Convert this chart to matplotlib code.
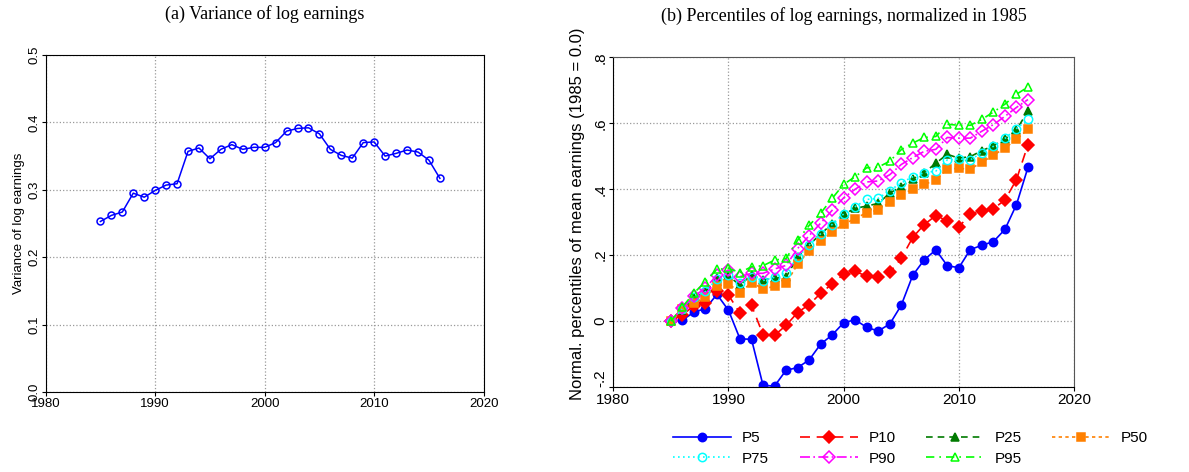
import matplotlib
matplotlib.use("Agg")
import matplotlib.pyplot as plt

years = list(range(1985, 2017))

variance = [0.253, 0.262, 0.267, 0.295, 0.289, 0.299, 0.307, 0.309, 0.357, 0.362,
            0.346, 0.360, 0.367, 0.360, 0.363, 0.363, 0.370, 0.387, 0.391, 0.392,
            0.383, 0.360, 0.351, 0.347, 0.370, 0.371, 0.350, 0.354, 0.359, 0.356,
            0.344, 0.317]

p5 = [0.000, 0.003, 0.027, 0.038, 0.081, 0.033, -0.054, -0.055, -0.195, -0.197,
      -0.149, -0.141, -0.118, -0.070, -0.042, -0.005, 0.004, -0.019, -0.030, -0.009,
      0.048, 0.139, 0.186, 0.216, 0.168, 0.162, 0.217, 0.230, 0.241, 0.278,
      0.353, 0.466]
p10 = [0.000, 0.019, 0.046, 0.056, 0.090, 0.079, 0.024, 0.048, -0.041, -0.043,
       -0.013, 0.026, 0.050, 0.084, 0.113, 0.142, 0.151, 0.136, 0.133, 0.148,
       0.190, 0.254, 0.293, 0.320, 0.304, 0.286, 0.324, 0.333, 0.341, 0.367,
       0.429, 0.535]
p25 = [0.000, 0.035, 0.070, 0.090, 0.130, 0.137, 0.109, 0.140, 0.125, 0.130,
       0.133, 0.194, 0.231, 0.264, 0.295, 0.324, 0.342, 0.349, 0.357, 0.388,
       0.408, 0.431, 0.450, 0.479, 0.506, 0.494, 0.499, 0.517, 0.532, 0.552,
       0.580, 0.637]
p50 = [0.000, 0.037, 0.054, 0.074, 0.106, 0.114, 0.086, 0.117, 0.098, 0.105,
       0.115, 0.172, 0.214, 0.243, 0.270, 0.294, 0.311, 0.329, 0.337, 0.360,
       0.382, 0.401, 0.415, 0.427, 0.462, 0.463, 0.461, 0.482, 0.503, 0.525,
       0.551, 0.582]
p75 = [0.000, 0.038, 0.072, 0.090, 0.128, 0.140, 0.115, 0.135, 0.123, 0.133,
       0.147, 0.193, 0.230, 0.265, 0.293, 0.325, 0.347, 0.369, 0.372, 0.396,
       0.419, 0.438, 0.450, 0.455, 0.489, 0.492, 0.489, 0.511, 0.530, 0.554,
       0.584, 0.612]
p90 = [0.000, 0.040, 0.075, 0.100, 0.140, 0.155, 0.135, 0.145, 0.145, 0.158,
       0.169, 0.220, 0.259, 0.297, 0.336, 0.374, 0.400, 0.422, 0.425, 0.444,
       0.475, 0.496, 0.515, 0.521, 0.557, 0.555, 0.555, 0.576, 0.596, 0.621,
       0.648, 0.672]
p95 = [0.000, 0.043, 0.085, 0.120, 0.157, 0.160, 0.147, 0.165, 0.168, 0.185,
       0.190, 0.245, 0.290, 0.327, 0.372, 0.415, 0.438, 0.465, 0.467, 0.485,
       0.520, 0.540, 0.557, 0.560, 0.597, 0.594, 0.594, 0.612, 0.634, 0.658,
       0.688, 0.710]

series = [
    ("P5", p5, "#0000ff", "-", "o", True),
    ("P10", p10, "#ff0000", (0, (6, 4)), "D", True),
    ("P25", p25, "#007a00", (0, (4, 3)), "^", True),
    ("P50", p50, "#ff8000", (0, (2, 2)), "s", True),
    ("P75", p75, "#00ffff", (0, (1, 2)), "o", False),
    ("P90", p90, "#ff00ff", (0, (6, 2, 1, 2)), "D", False),
    ("P95", p95, "#00ff00", (0, (5, 3, 1, 3)), "^", False),
]

plt.rcParams["font.family"] = ["Liberation Sans", "DejaVu Sans"]
fig = plt.figure(figsize=(11.89, 4.72), dpi=100)

# (a) variance
ax1 = fig.add_axes([0.0384, 0.1695, 0.3684, 0.714])
ax1.plot(years, variance, color="#0000ff", lw=1.1, marker="o", ms=5,
         mfc="none", mec="#0000ff", mew=1.1)
ax1.set_xlim(1980, 2020)
ax1.set_ylim(0, 0.5)
ax1.set_xticks([1980, 1990, 2000, 2010, 2020])
ax1.set_yticks([0.0, 0.1, 0.2, 0.3, 0.4, 0.5])
ax1.set_yticklabels(["0.0", "0.1", "0.2", "0.3", "0.4", "0.5"], rotation=90, va="center")
ax1.tick_params(labelsize=9.5, length=3, pad=1)
ax1.set_ylabel("Variance of log earnings", fontsize=9.5, labelpad=2)
ax1.grid(True, ls=":", color="#999999", lw=0.9)
ax1.set_title("(a) Variance of log earnings", family="Liberation Serif", fontsize=13, pad=26)

# (b) percentiles
ax2 = fig.add_axes([0.5158, 0.180, 0.3875, 0.6985])
for name, vals, col, ls, mk, filled in series:
    ax2.plot(years, vals, color=col, ls=ls, lw=1.2, marker=mk, ms=6,
             mfc=col if filled else "none", mec=col, mew=1.1, label=name)
ax2.set_xlim(1980, 2020)
ax2.set_ylim(-0.2, 0.8)
ax2.set_xticks([1980, 1990, 2000, 2010, 2020])
ax2.set_yticks([-0.2, 0.0, 0.2, 0.4, 0.6, 0.8])
ax2.set_yticklabels(["-.2", "0", ".2", ".4", ".6", ".8"], rotation=90, va="center")
ax2.get_yticklabels()[0].set_va("bottom")
ax2.tick_params(labelsize=11, length=3, pad=1)
ax2.set_ylabel("Normal. percentiles of mean earnings (1985 = 0.0)", fontsize=12)
ax2.yaxis.set_label_coords(-0.062, 0.525)
ax2.grid(True, ls=":", color="#999999", lw=0.9)
for s in ("top", "right"):
    ax2.spines[s].set_color("#555555")
ax2.set_title("(b) Percentiles of log earnings, normalized in 1985",
              family="Liberation Serif", fontsize=13, pad=26)

# legend laid out row by row like the original
order = [0, 4, 1, 5, 2, 6, 3]
handles, labels = ax2.get_legend_handles_labels()
fig.legend([handles[i] for i in order], [labels[i] for i in order],
           loc="center", bbox_to_anchor=(0.766, 0.05), ncol=4, frameon=False,
           fontsize=11, handlelength=3.8, columnspacing=2.0, handletextpad=0.7,
           labelspacing=0.45)

fig.savefig("out.png", dpi=100)
